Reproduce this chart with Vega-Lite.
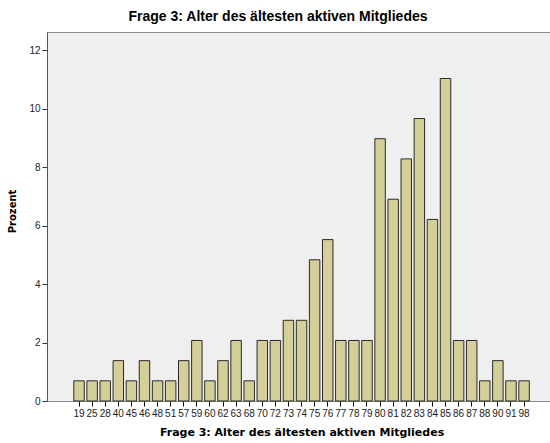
{
  "$schema": "https://vega.github.io/schema/vega-lite/v6.json",
  "autosize": "none",
  "width": 504,
  "height": 369,
  "padding": {"left": 47, "top": 32, "right": 0, "bottom": 42},
  "background": "white",
  "title": {
    "text": "Frage 3: Alter des ältesten aktiven Mitgliedes",
    "font": "Liberation Sans",
    "fontSize": 14,
    "fontWeight": "bold",
    "color": "#000000",
    "anchor": "middle",
    "dx": -21,
    "offset": 8
  },
  "config": {
    "view": {"fill": "#efefef", "stroke": "#8a8a8a", "strokeWidth": 1},
    "axis": {"grid": false, "labelFont": "Liberation Sans", "titleFont": "DejaVu Sans"}
  },
  "data": {
    "values": [
      {"alter": "19", "prozent": 0.69},
      {"alter": "25", "prozent": 0.69},
      {"alter": "28", "prozent": 0.69},
      {"alter": "40", "prozent": 1.38},
      {"alter": "45", "prozent": 0.69},
      {"alter": "46", "prozent": 1.38},
      {"alter": "48", "prozent": 0.69},
      {"alter": "51", "prozent": 0.69},
      {"alter": "57", "prozent": 1.38},
      {"alter": "59", "prozent": 2.07},
      {"alter": "60", "prozent": 0.69},
      {"alter": "62", "prozent": 1.38},
      {"alter": "63", "prozent": 2.07},
      {"alter": "68", "prozent": 0.69},
      {"alter": "70", "prozent": 2.07},
      {"alter": "72", "prozent": 2.07},
      {"alter": "73", "prozent": 2.76},
      {"alter": "74", "prozent": 2.76},
      {"alter": "75", "prozent": 4.83},
      {"alter": "76", "prozent": 5.52},
      {"alter": "77", "prozent": 2.07},
      {"alter": "78", "prozent": 2.07},
      {"alter": "79", "prozent": 2.07},
      {"alter": "80", "prozent": 8.97},
      {"alter": "81", "prozent": 6.90},
      {"alter": "82", "prozent": 8.28},
      {"alter": "83", "prozent": 9.66},
      {"alter": "84", "prozent": 6.21},
      {"alter": "85", "prozent": 11.03},
      {"alter": "86", "prozent": 2.07},
      {"alter": "87", "prozent": 2.07},
      {"alter": "88", "prozent": 0.69},
      {"alter": "90", "prozent": 1.38},
      {"alter": "91", "prozent": 0.69},
      {"alter": "98", "prozent": 0.69}
    ]
  },
  "mark": {"type": "bar", "fill": "#d4cf98", "stroke": "#2a2a2a", "strokeWidth": 1},
  "encoding": {
    "x": {
      "field": "alter",
      "type": "ordinal",
      "sort": null,
      "scale": {"paddingInner": 0.2, "paddingOuter": 0, "range": [26.8, 482.3]},
      "axis": {
        "title": "Frage 3: Alter des ältesten aktiven Mitgliedes",
        "titleFontSize": 11,
        "titleFontWeight": "bold",
        "titleColor": "#000000",
        "titlePadding": 8,
        "labelAngle": 0,
        "labelFontSize": 10,
        "labelColor": "#222222",
        "labelPadding": 2,
        "tickColor": "#000000",
        "tickSize": 5,
        "domainColor": "#8a8a8a"
      }
    },
    "y": {
      "field": "prozent",
      "type": "quantitative",
      "scale": {"domain": [0, 12.62], "nice": false},
      "axis": {
        "title": "Prozent",
        "titleFontSize": 10,
        "titleFontWeight": "bold",
        "titleColor": "#000000",
        "titlePadding": 11,
        "titleY": 179,
        "values": [0, 2, 4, 6, 8, 10, 12],
        "labelFontSize": 10,
        "labelColor": "#222222",
        "labelPadding": 2,
        "tickColor": "#333333",
        "tickSize": 5,
        "domainColor": "#555555"
      }
    }
  }
}
